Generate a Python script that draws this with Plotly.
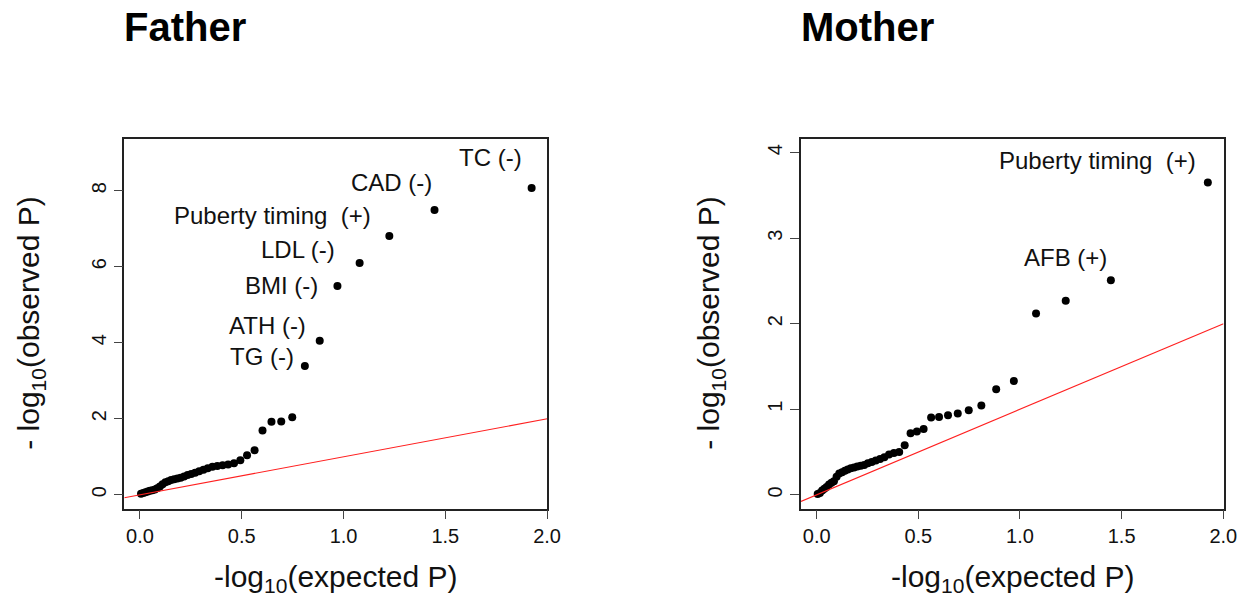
import plotly.graph_objects as go

# ---------------- data ----------------
expected_p = [1.924, 1.447, 1.225, 1.079, 0.970, 0.883, 0.810, 0.748, 0.694, 0.646,
              0.602, 0.563, 0.526, 0.493, 0.462, 0.433, 0.406, 0.380, 0.356, 0.333,
              0.312, 0.291, 0.271, 0.252, 0.234, 0.217, 0.200, 0.184, 0.168, 0.153,
              0.139, 0.125, 0.111, 0.098, 0.085, 0.073, 0.061, 0.049, 0.038, 0.027,
              0.016, 0.005]

father_obs = [8.07, 7.49, 6.81, 6.10, 5.49, 4.05, 3.39, 2.04, 1.93, 1.92,
              1.69, 1.17, 1.04, 0.91, 0.83, 0.80, 0.78, 0.76, 0.74, 0.70,
              0.66, 0.62, 0.58, 0.55, 0.52, 0.48, 0.45, 0.43, 0.41, 0.39,
              0.36, 0.33, 0.28, 0.22, 0.17, 0.14, 0.12, 0.11, 0.09, 0.07,
              0.05, 0.03]

mother_obs = [3.65, 2.51, 2.27, 2.12, 1.33, 1.235, 1.045, 0.99, 0.95, 0.93,
              0.91, 0.905, 0.77, 0.74, 0.72, 0.58, 0.50, 0.49, 0.47, 0.44,
              0.42, 0.40, 0.385, 0.37, 0.35, 0.34, 0.33, 0.32, 0.31, 0.295,
              0.28, 0.265, 0.25, 0.21, 0.16, 0.14, 0.12, 0.09, 0.07, 0.05,
              0.02, 0.01]

father_labels = ["TC (-)", "CAD (-)", "Puberty timing \u00a0(+)", "LDL (-)",
                 "BMI (-)", "ATH (-)", "TG (-)"]
mother_labels = ["Puberty timing \u00a0(+)", "AFB (+)"]

x_ticks = [0, 0.5, 1.0, 1.5, 2.0]
x_ticktext = ["0.0", "0.5", "1.0", "1.5", "2.0"]
father_yticks = [0, 2, 4, 6, 8]
mother_yticks = [0, 1, 2, 3, 4]

titles = ["Father", "Mother"]

# ---------------- layout constants ----------------
W, H = 1249, 605
FONT = "Liberation Sans, Arial, Helvetica, sans-serif"
x_range = [-0.077, 2.001]
father_yrange = [-0.36, 9.36]
mother_yrange = [-0.16, 4.16]

left_dom = [124.3 / W, 547.3 / W]
right_dom = [801.0 / W, 1223.5 / W]
y_dom = [1 - 508.5 / H, 1 - 139.0 / H]

# label offsets (pixels) relative to the point they describe
father_shifts = [(-41, 31), (-43, 28), (-117, 20), (-62, 13), (-56, 1), (-52, 15), (-43, 9)]
mother_shifts = [(-110, 22), (-45, 23)]

fig = go.Figure()

# points
fig.add_trace(go.Scatter(x=expected_p, y=father_obs, mode="markers",
                         marker=dict(color="black", size=8), xaxis="x", yaxis="y",
                         showlegend=False, hoverinfo="x+y"))
fig.add_trace(go.Scatter(x=expected_p, y=mother_obs, mode="markers",
                         marker=dict(color="black", size=8), xaxis="x2", yaxis="y2",
                         showlegend=False, hoverinfo="x+y"))
# y = x reference lines spanning the axis range
fig.add_trace(go.Scatter(x=x_range, y=x_range, mode="lines",
                         line=dict(color="#ff2020", width=1.1), xaxis="x", yaxis="y",
                         showlegend=False, hoverinfo="skip"))
fig.add_trace(go.Scatter(x=x_range, y=x_range, mode="lines",
                         line=dict(color="#ff2020", width=1.1), xaxis="x2", yaxis="y2",
                         showlegend=False, hoverinfo="skip"))

axis_common = dict(showline=True, mirror=True, linecolor="#222", linewidth=1.6,
                   ticks="outside", ticklen=9, tickwidth=1.3, tickcolor="#444",
                   showgrid=False, zeroline=False, automargin=False,
                   tickfont=dict(family=FONT, size=20, color="#111"))

fig.update_layout(
    template="none",
    width=W, height=H,
    margin=dict(l=0, r=0, t=0, b=0),
    paper_bgcolor="white", plot_bgcolor="white",
    xaxis=dict(domain=left_dom, range=x_range, tickvals=x_ticks, ticktext=x_ticktext,
               anchor="y", **axis_common),
    yaxis=dict(domain=y_dom, range=father_yrange, tickvals=father_yticks,
               tickangle=-90, anchor="x", **axis_common),
    xaxis2=dict(domain=right_dom, range=x_range, tickvals=x_ticks, ticktext=x_ticktext,
                anchor="y2", **axis_common),
    yaxis2=dict(domain=y_dom, range=mother_yrange, tickvals=mother_yticks,
                tickangle=-90, anchor="x2", **axis_common),
)

annotations = []
# point labels
for i, (lab, (dx, dy)) in enumerate(zip(father_labels, father_shifts)):
    annotations.append(dict(x=expected_p[i], y=father_obs[i], xref="x", yref="y",
                            text=lab, showarrow=False, xshift=dx, yshift=dy,
                            xanchor="center", yanchor="middle",
                            font=dict(family=FONT, size=24, color="#111")))
for i, (lab, (dx, dy)) in enumerate(zip(mother_labels, mother_shifts)):
    annotations.append(dict(x=expected_p[i], y=mother_obs[i], xref="x2", yref="y2",
                            text=lab, showarrow=False, xshift=dx, yshift=dy,
                            xanchor="center", yanchor="middle",
                            font=dict(family=FONT, size=24, color="#111")))

# panel titles
for dom, t in zip([left_dom, right_dom], titles):
    annotations.append(dict(x=dom[0] - 2 / W, y=1 - 27 / H, xref="paper", yref="paper",
                            text=f"<b>{t}</b>", showarrow=False,
                            xanchor="left", yanchor="middle",
                            font=dict(family=FONT, size=40, color="black")))

# axis titles
for dom, ycx in zip([left_dom, right_dom], [31, 711]):
    annotations.append(dict(x=(dom[0] + dom[1]) / 2, y=1 - 578 / H, xref="paper", yref="paper",
                            text="-log<sub>10</sub>(expected P)", showarrow=False,
                            xanchor="center", yanchor="middle",
                            font=dict(family=FONT, size=30, color="#111")))
    annotations.append(dict(x=ycx / W, y=(y_dom[0] + y_dom[1]) / 2, xref="paper", yref="paper",
                            text="- log<sub>10</sub>(observed P)", showarrow=False,
                            textangle=-90, xanchor="center", yanchor="middle",
                            font=dict(family=FONT, size=30, color="#111")))

fig.update_layout(annotations=annotations)

fig.write_html("out.html")
